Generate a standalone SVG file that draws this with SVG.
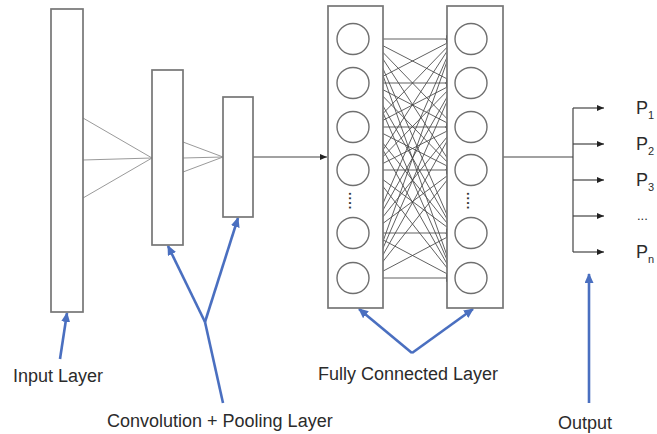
<svg xmlns="http://www.w3.org/2000/svg" width="657" height="434" viewBox="0 0 657 434">
<defs>
<style>
.box{fill:#fff;stroke:#767676;stroke-width:1.7}
.node{fill:#fff;stroke:#6f6f6f;stroke-width:1.4}
.thin{stroke:#9a9a9a;stroke-width:1;fill:none}
.fc{stroke:#444;stroke-width:0.85;fill:none;marker-end:url(#ah)}
.blk{stroke:#444;stroke-width:1.2;fill:none}
.blue{stroke:#4a6fc0;stroke-width:2.6;fill:none}
.lbl{font-family:"Liberation Sans",Arial,sans-serif;font-size:18px;fill:#2b2b2b}
.dots{font-family:"Liberation Sans",Arial,sans-serif;font-size:13px;font-weight:bold;fill:#333;letter-spacing:1px}
</style>
<marker id="ah" markerUnits="userSpaceOnUse" markerWidth="9" markerHeight="8" refX="9" refY="4" orient="auto"><path d="M0,0 L9,4 L0,8 z" fill="#111"/></marker>
<marker id="ak" markerUnits="userSpaceOnUse" markerWidth="7" markerHeight="6" refX="7" refY="3" orient="auto"><path d="M0,0 L7,3 L0,6 z" fill="#222"/></marker>
<marker id="bh" markerUnits="userSpaceOnUse" markerWidth="10" markerHeight="9" refX="9" refY="4.5" orient="auto"><path d="M0,0 L10,4.5 L0,9 z" fill="#4a6fc0"/></marker>
</defs>
<rect width="657" height="434" fill="#fff"/>

<g id="connectors">
<line class="thin" x1="83" y1="118" x2="152" y2="158"/>
<line class="thin" x1="83" y1="160" x2="152" y2="158"/>
<line class="thin" x1="83" y1="198" x2="152" y2="158"/>
<line class="thin" x1="183" y1="142" x2="223" y2="157"/>
<line class="thin" x1="183" y1="158" x2="223" y2="157"/>
<line class="thin" x1="183" y1="172" x2="223" y2="157"/>
<line class="blk" x1="253" y1="157" x2="327" y2="157" marker-end="url(#ak)"/>
<g id="fc-links">
<line class="fc" x1="370" y1="39" x2="455" y2="39"/>
<line class="fc" x1="370" y1="39" x2="455" y2="83"/>
<line class="fc" x1="370" y1="39" x2="455" y2="127"/>
<line class="fc" x1="370" y1="39" x2="455" y2="170"/>
<line class="fc" x1="370" y1="39" x2="455" y2="233"/>
<line class="fc" x1="370" y1="39" x2="455" y2="278"/>
<line class="fc" x1="370" y1="83" x2="455" y2="39"/>
<line class="fc" x1="370" y1="83" x2="455" y2="83"/>
<line class="fc" x1="370" y1="83" x2="455" y2="127"/>
<line class="fc" x1="370" y1="83" x2="455" y2="170"/>
<line class="fc" x1="370" y1="83" x2="455" y2="233"/>
<line class="fc" x1="370" y1="83" x2="455" y2="278"/>
<line class="fc" x1="370" y1="127" x2="455" y2="39"/>
<line class="fc" x1="370" y1="127" x2="455" y2="83"/>
<line class="fc" x1="370" y1="127" x2="455" y2="127"/>
<line class="fc" x1="370" y1="127" x2="455" y2="170"/>
<line class="fc" x1="370" y1="127" x2="455" y2="233"/>
<line class="fc" x1="370" y1="127" x2="455" y2="278"/>
<line class="fc" x1="370" y1="170" x2="455" y2="39"/>
<line class="fc" x1="370" y1="170" x2="455" y2="83"/>
<line class="fc" x1="370" y1="170" x2="455" y2="127"/>
<line class="fc" x1="370" y1="170" x2="455" y2="170"/>
<line class="fc" x1="370" y1="170" x2="455" y2="233"/>
<line class="fc" x1="370" y1="170" x2="455" y2="278"/>
<line class="fc" x1="370" y1="233" x2="455" y2="39"/>
<line class="fc" x1="370" y1="233" x2="455" y2="83"/>
<line class="fc" x1="370" y1="233" x2="455" y2="127"/>
<line class="fc" x1="370" y1="233" x2="455" y2="170"/>
<line class="fc" x1="370" y1="233" x2="455" y2="233"/>
<line class="fc" x1="370" y1="233" x2="455" y2="278"/>
<line class="fc" x1="370" y1="278" x2="455" y2="39"/>
<line class="fc" x1="370" y1="278" x2="455" y2="83"/>
<line class="fc" x1="370" y1="278" x2="455" y2="127"/>
<line class="fc" x1="370" y1="278" x2="455" y2="170"/>
<line class="fc" x1="370" y1="278" x2="455" y2="233"/>
<line class="fc" x1="370" y1="278" x2="455" y2="278"/>
</g>
<line class="blk" x1="503" y1="157" x2="573" y2="157"/>
<line class="blk" x1="573" y1="108" x2="573" y2="252"/>
<line class="blk" x1="573" y1="108" x2="604" y2="108" marker-end="url(#ak)"/>
<line class="blk" x1="573" y1="144" x2="604" y2="144" marker-end="url(#ak)"/>
<line class="blk" x1="573" y1="180" x2="604" y2="180" marker-end="url(#ak)"/>
<line class="blk" x1="573" y1="216" x2="604" y2="216" marker-end="url(#ak)"/>
<line class="blk" x1="573" y1="252" x2="604" y2="252" marker-end="url(#ak)"/>
<line class="blue" x1="60" y1="359" x2="67" y2="313" marker-end="url(#bh)"/>
<line class="blue" x1="223" y1="403" x2="205" y2="322"/>
<line class="blue" x1="205" y1="322" x2="168" y2="246" marker-end="url(#bh)"/>
<line class="blue" x1="205" y1="322" x2="238" y2="218" marker-end="url(#bh)"/>
<line class="blue" x1="412" y1="353" x2="359" y2="309" marker-end="url(#bh)"/>
<line class="blue" x1="412" y1="353" x2="473" y2="309" marker-end="url(#bh)"/>
<line class="blue" x1="589" y1="403" x2="589" y2="274" marker-end="url(#bh)"/>
</g>

<g id="input-layer">
<rect class="box" x="51" y="9" width="32" height="303"/>
<text class="lbl" x="13" y="382">Input Layer</text>
</g>
<g id="conv-layer">
<rect class="box" x="152" y="70" width="31" height="175"/>
</g>
<g id="pool-layer">
<rect class="box" x="223" y="97" width="30" height="120"/>
<text class="lbl" x="107" y="427">Convolution + Pooling Layer</text>
</g>
<g id="fc-left">
<rect class="box" x="328" y="6" width="55" height="302"/>
<ellipse class="node" cx="353" cy="39" rx="16" ry="15.5"/>
<ellipse class="node" cx="353" cy="83" rx="16" ry="15.5"/>
<ellipse class="node" cx="353" cy="127" rx="16" ry="15.5"/>
<ellipse class="node" cx="353" cy="170" rx="16" ry="15.5"/>
<ellipse class="node" cx="353" cy="233" rx="16" ry="15.5"/>
<ellipse class="node" cx="353" cy="278" rx="16" ry="15.5"/>
<text class="dots" transform="translate(349,192) rotate(90)">....</text>
</g>
<g id="fc-right">
<rect class="box" x="447" y="6" width="56" height="302"/>
<ellipse class="node" cx="471" cy="39" rx="16" ry="15.5"/>
<ellipse class="node" cx="471" cy="83" rx="16" ry="15.5"/>
<ellipse class="node" cx="471" cy="127" rx="16" ry="15.5"/>
<ellipse class="node" cx="471" cy="170" rx="16" ry="15.5"/>
<ellipse class="node" cx="471" cy="233" rx="16" ry="15.5"/>
<ellipse class="node" cx="471" cy="278" rx="16" ry="15.5"/>
<text class="dots" transform="translate(467,192) rotate(90)">....</text>
<text class="lbl" x="318" y="380">Fully Connected Layer</text>
</g>
<g id="output">
<text class="lbl" x="636" y="114">P<tspan font-size="11" dy="5">1</tspan></text>
<text class="lbl" x="636" y="150">P<tspan font-size="11" dy="5">2</tspan></text>
<text class="lbl" x="636" y="186">P<tspan font-size="11" dy="5">3</tspan></text>
<text class="lbl" x="637" y="220" style="font-size:13px">...</text>
<text class="lbl" x="636" y="258">P<tspan font-size="11" dy="5">n</tspan></text>
<text class="lbl" x="558" y="429">Output</text>
</g>
</svg>
